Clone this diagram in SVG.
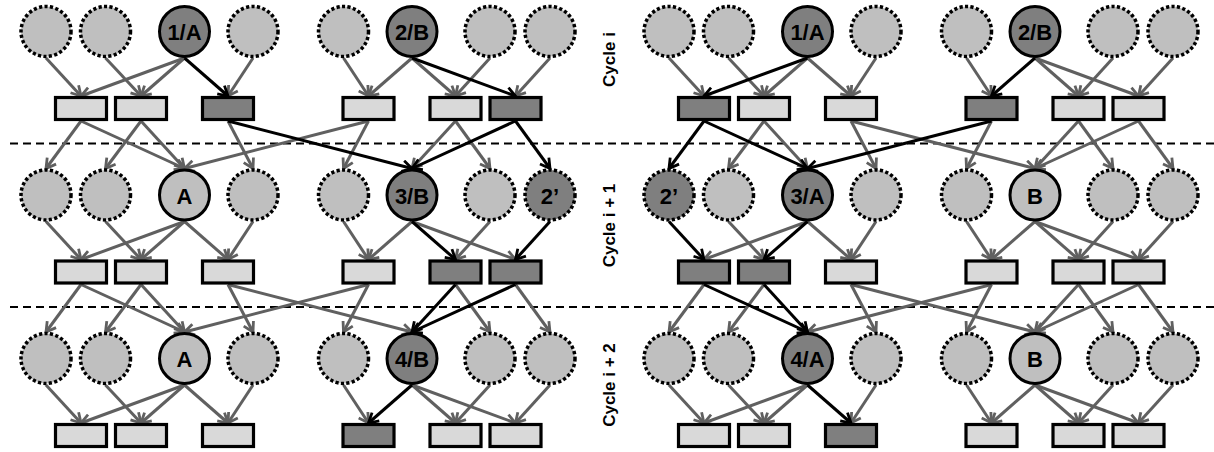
<svg xmlns="http://www.w3.org/2000/svg" width="1214" height="452" viewBox="0 0 1214 452">
<style>
.cd{fill:#bfbfbf;stroke:#000;stroke-width:3.5;stroke-dasharray:3.2 2.3}
.cdd{fill:#7f7f7f;stroke:#000;stroke-width:3.5;stroke-dasharray:3.2 2.3}
.cs{fill:#bfbfbf;stroke:#000;stroke-width:3}
.csd{fill:#7f7f7f;stroke:#000;stroke-width:3}
.rl{fill:#d9d9d9;stroke:#000;stroke-width:3.2}
.rd{fill:#7f7f7f;stroke:#000;stroke-width:3.2}
.lbl{font-family:"Liberation Sans",Arial,sans-serif;font-weight:bold;font-size:22px;fill:#000;text-anchor:middle}
.cyc{font-family:"Liberation Sans",Arial,sans-serif;font-weight:bold;font-size:17px;fill:#000;text-anchor:middle}
.g line{stroke:#606060;stroke-width:3;marker-end:url(#ag)}
.b line{stroke:#000;stroke-width:3;marker-end:url(#ab)}
.sep{stroke:#000;stroke-width:2;stroke-dasharray:8 5}
</style>
<defs>
<marker id="ag" viewBox="0 0 14 14" refX="12" refY="7" markerWidth="14" markerHeight="14" orient="auto" markerUnits="userSpaceOnUse"><path d="M2.5,1.5 L12,7 L2.5,12.5" fill="none" stroke="#606060" stroke-width="2.8"/></marker>
<marker id="ab" viewBox="0 0 14 14" refX="12" refY="7" markerWidth="14" markerHeight="14" orient="auto" markerUnits="userSpaceOnUse"><path d="M2.5,1.5 L12,7 L2.5,12.5" fill="none" stroke="#000" stroke-width="2.8"/></marker>
</defs>
<g id="separators">
<line class="sep" x1="10" y1="143.5" x2="1214" y2="143.5"/>
<line class="sep" x1="10" y1="307" x2="1214" y2="307"/>
</g>
<g id="connectors">
<g class="g">
<line x1="46" y1="58" x2="81" y2="96"/><line x1="105.5" y1="58" x2="141" y2="96"/><line x1="184.5" y1="58" x2="81" y2="96"/><line x1="184.5" y1="58" x2="141" y2="96"/><line x1="253" y1="58" x2="228" y2="96"/>
<line x1="343.5" y1="58" x2="368.5" y2="96"/><line x1="412" y1="58" x2="368.5" y2="96"/><line x1="412" y1="58" x2="455.5" y2="96"/><line x1="490" y1="58" x2="455.5" y2="96"/><line x1="550" y1="58" x2="515.5" y2="96"/>
<line x1="669" y1="58" x2="704" y2="96"/><line x1="728.5" y1="58" x2="764" y2="96"/><line x1="807.5" y1="58" x2="764" y2="96"/><line x1="807.5" y1="58" x2="851" y2="96"/><line x1="876" y1="58" x2="851" y2="96"/>
<line x1="966.5" y1="58" x2="991.5" y2="96"/><line x1="1035" y1="58" x2="1078.5" y2="96"/><line x1="1035" y1="58" x2="1138.5" y2="96"/><line x1="1113" y1="58" x2="1078.5" y2="96"/><line x1="1173" y1="58" x2="1138.5" y2="96"/>
<line x1="81" y1="121" x2="46" y2="168.5"/><line x1="81" y1="121" x2="184.5" y2="168.5"/><line x1="141" y1="121" x2="105.5" y2="168.5"/><line x1="141" y1="121" x2="184.5" y2="168.5"/><line x1="228" y1="121" x2="253" y2="168.5"/>
<line x1="368.5" y1="121" x2="343.5" y2="168.5"/><line x1="368.5" y1="121" x2="184.5" y2="168.5"/><line x1="455.5" y1="121" x2="412" y2="168.5"/><line x1="455.5" y1="121" x2="490" y2="168.5"/>
<line x1="764" y1="121" x2="728.5" y2="168.5"/><line x1="764" y1="121" x2="807.5" y2="168.5"/><line x1="851" y1="121" x2="876" y2="168.5"/><line x1="851" y1="121" x2="1035" y2="168.5"/>
<line x1="991.5" y1="121" x2="966.5" y2="168.5"/><line x1="1078.5" y1="121" x2="1035" y2="168.5"/><line x1="1078.5" y1="121" x2="1113" y2="168.5"/><line x1="1138.5" y1="121" x2="1035" y2="168.5"/><line x1="1138.5" y1="121" x2="1173" y2="168.5"/>
<line x1="46" y1="221.5" x2="81" y2="259.5"/><line x1="105.5" y1="221.5" x2="141" y2="259.5"/><line x1="184.5" y1="221.5" x2="81" y2="259.5"/><line x1="184.5" y1="221.5" x2="141" y2="259.5"/><line x1="184.5" y1="221.5" x2="228" y2="259.5"/><line x1="253" y1="221.5" x2="228" y2="259.5"/>
<line x1="343.5" y1="221.5" x2="368.5" y2="259.5"/><line x1="412" y1="221.5" x2="368.5" y2="259.5"/><line x1="412" y1="221.5" x2="515.5" y2="259.5"/><line x1="490" y1="221.5" x2="455.5" y2="259.5"/>
<line x1="728.5" y1="221.5" x2="764" y2="259.5"/><line x1="807.5" y1="221.5" x2="704" y2="259.5"/><line x1="807.5" y1="221.5" x2="851" y2="259.5"/><line x1="876" y1="221.5" x2="851" y2="259.5"/>
<line x1="966.5" y1="221.5" x2="991.5" y2="259.5"/><line x1="1035" y1="221.5" x2="991.5" y2="259.5"/><line x1="1035" y1="221.5" x2="1078.5" y2="259.5"/><line x1="1035" y1="221.5" x2="1138.5" y2="259.5"/><line x1="1113" y1="221.5" x2="1078.5" y2="259.5"/><line x1="1173" y1="221.5" x2="1138.5" y2="259.5"/>
<line x1="81" y1="284.5" x2="46" y2="332"/><line x1="81" y1="284.5" x2="184.5" y2="332"/><line x1="141" y1="284.5" x2="105.5" y2="332"/><line x1="141" y1="284.5" x2="184.5" y2="332"/><line x1="228" y1="284.5" x2="253" y2="332"/><line x1="228" y1="284.5" x2="412" y2="332"/>
<line x1="368.5" y1="284.5" x2="343.5" y2="332"/><line x1="368.5" y1="284.5" x2="184.5" y2="332"/><line x1="455.5" y1="284.5" x2="490" y2="332"/><line x1="515.5" y1="284.5" x2="550" y2="332"/>
<line x1="704" y1="284.5" x2="669" y2="332"/><line x1="764" y1="284.5" x2="728.5" y2="332"/><line x1="851" y1="284.5" x2="876" y2="332"/><line x1="851" y1="284.5" x2="1035" y2="332"/>
<line x1="991.5" y1="284.5" x2="966.5" y2="332"/><line x1="991.5" y1="284.5" x2="807.5" y2="332"/><line x1="1078.5" y1="284.5" x2="1035" y2="332"/><line x1="1078.5" y1="284.5" x2="1113" y2="332"/><line x1="1138.5" y1="284.5" x2="1035" y2="332"/><line x1="1138.5" y1="284.5" x2="1173" y2="332"/>
<line x1="46" y1="385" x2="81" y2="423"/><line x1="105.5" y1="385" x2="141" y2="423"/><line x1="184.5" y1="385" x2="81" y2="423"/><line x1="184.5" y1="385" x2="141" y2="423"/><line x1="184.5" y1="385" x2="228" y2="423"/><line x1="253" y1="385" x2="228" y2="423"/>
<line x1="343.5" y1="385" x2="368.5" y2="423"/><line x1="412" y1="385" x2="455.5" y2="423"/><line x1="412" y1="385" x2="515.5" y2="423"/><line x1="490" y1="385" x2="455.5" y2="423"/><line x1="550" y1="385" x2="515.5" y2="423"/>
<line x1="669" y1="385" x2="704" y2="423"/><line x1="728.5" y1="385" x2="764" y2="423"/><line x1="807.5" y1="385" x2="704" y2="423"/><line x1="807.5" y1="385" x2="764" y2="423"/><line x1="876" y1="385" x2="851" y2="423"/>
<line x1="966.5" y1="385" x2="991.5" y2="423"/><line x1="1035" y1="385" x2="991.5" y2="423"/><line x1="1035" y1="385" x2="1078.5" y2="423"/><line x1="1035" y1="385" x2="1138.5" y2="423"/><line x1="1113" y1="385" x2="1078.5" y2="423"/><line x1="1173" y1="385" x2="1138.5" y2="423"/>
</g>
<g class="b">
<line x1="184.5" y1="58" x2="228" y2="96"/><line x1="412" y1="58" x2="515.5" y2="96"/><line x1="807.5" y1="58" x2="704" y2="96"/><line x1="1035" y1="58" x2="991.5" y2="96"/>
<line x1="228" y1="121" x2="412" y2="168.5"/><line x1="515.5" y1="121" x2="412" y2="168.5"/><line x1="515.5" y1="121" x2="550" y2="168.5"/><line x1="704" y1="121" x2="669" y2="168.5"/><line x1="704" y1="121" x2="807.5" y2="168.5"/><line x1="991.5" y1="121" x2="807.5" y2="168.5"/>
<line x1="412" y1="221.5" x2="455.5" y2="259.5"/><line x1="550" y1="221.5" x2="515.5" y2="259.5"/><line x1="669" y1="221.5" x2="704" y2="259.5"/><line x1="807.5" y1="221.5" x2="764" y2="259.5"/>
<line x1="455.5" y1="284.5" x2="412" y2="332"/><line x1="515.5" y1="284.5" x2="412" y2="332"/><line x1="704" y1="284.5" x2="807.5" y2="332"/><line x1="764" y1="284.5" x2="807.5" y2="332"/>
<line x1="412" y1="385" x2="368.5" y2="423"/><line x1="807.5" y1="385" x2="851" y2="423"/>
</g>
</g>
<g id="labels">
<text class="cyc" transform="translate(614.5,59.5) rotate(-90)">Cycle i</text>
<text class="cyc" transform="translate(614.5,225.5) rotate(-90)">Cycle i + 1</text>
<text class="cyc" transform="translate(614.5,385) rotate(-90)">Cycle i + 2</text>
</g>
<g id="nodes">
<g id="r1g1c1"><circle class="cd" cx="46" cy="31.5" r="25"/></g>
<g id="r1g1c2"><circle class="cd" cx="105.5" cy="31.5" r="25"/></g>
<g id="r1g1c3"><circle class="csd" cx="184.5" cy="31.5" r="25"/><text class="lbl" x="184.5" y="40">1/A</text></g>
<g id="r1g1c4"><circle class="cd" cx="253" cy="31.5" r="25"/></g>
<g id="r1g2c1"><circle class="cd" cx="343.5" cy="31.5" r="25"/></g>
<g id="r1g2c2"><circle class="csd" cx="412" cy="31.5" r="25"/><text class="lbl" x="412" y="40">2/B</text></g>
<g id="r1g2c3"><circle class="cd" cx="490" cy="31.5" r="25"/></g>
<g id="r1g2c4"><circle class="cd" cx="550" cy="31.5" r="25"/></g>
<g id="r1g3c1"><circle class="cd" cx="669" cy="31.5" r="25"/></g>
<g id="r1g3c2"><circle class="cd" cx="728.5" cy="31.5" r="25"/></g>
<g id="r1g3c3"><circle class="csd" cx="807.5" cy="31.5" r="25"/><text class="lbl" x="807.5" y="40">1/A</text></g>
<g id="r1g3c4"><circle class="cd" cx="876" cy="31.5" r="25"/></g>
<g id="r1g4c1"><circle class="cd" cx="966.5" cy="31.5" r="25"/></g>
<g id="r1g4c2"><circle class="csd" cx="1035" cy="31.5" r="25"/><text class="lbl" x="1035" y="40">2/B</text></g>
<g id="r1g4c3"><circle class="cd" cx="1113" cy="31.5" r="25"/></g>
<g id="r1g4c4"><circle class="cd" cx="1173" cy="31.5" r="25"/></g>
<g id="r1g1b1"><rect class="rl" x="55.5" y="97.5" width="51" height="22"/></g>
<g id="r1g1b2"><rect class="rl" x="115.5" y="97.5" width="51" height="22"/></g>
<g id="r1g1b3"><rect class="rd" x="202.5" y="97.5" width="51" height="22"/></g>
<g id="r1g2b1"><rect class="rl" x="343" y="97.5" width="51" height="22"/></g>
<g id="r1g2b2"><rect class="rl" x="430" y="97.5" width="51" height="22"/></g>
<g id="r1g2b3"><rect class="rd" x="490" y="97.5" width="51" height="22"/></g>
<g id="r1g3b1"><rect class="rd" x="678.5" y="97.5" width="51" height="22"/></g>
<g id="r1g3b2"><rect class="rl" x="738.5" y="97.5" width="51" height="22"/></g>
<g id="r1g3b3"><rect class="rl" x="825.5" y="97.5" width="51" height="22"/></g>
<g id="r1g4b1"><rect class="rd" x="966" y="97.5" width="51" height="22"/></g>
<g id="r1g4b2"><rect class="rl" x="1053" y="97.5" width="51" height="22"/></g>
<g id="r1g4b3"><rect class="rl" x="1113" y="97.5" width="51" height="22"/></g>
<g id="r2g1c1"><circle class="cd" cx="46" cy="195" r="25"/></g>
<g id="r2g1c2"><circle class="cd" cx="105.5" cy="195" r="25"/></g>
<g id="r2g1c3"><circle class="cs" cx="184.5" cy="195" r="25"/><text class="lbl" x="184.5" y="203.5">A</text></g>
<g id="r2g1c4"><circle class="cd" cx="253" cy="195" r="25"/></g>
<g id="r2g2c1"><circle class="cd" cx="343.5" cy="195" r="25"/></g>
<g id="r2g2c2"><circle class="csd" cx="412" cy="195" r="25"/><text class="lbl" x="412" y="203.5">3/B</text></g>
<g id="r2g2c3"><circle class="cd" cx="490" cy="195" r="25"/></g>
<g id="r2g2c4"><circle class="cdd" cx="550" cy="195" r="25"/><text class="lbl" x="550" y="203.5">2’</text></g>
<g id="r2g3c1"><circle class="cdd" cx="669" cy="195" r="25"/><text class="lbl" x="669" y="203.5">2’</text></g>
<g id="r2g3c2"><circle class="cd" cx="728.5" cy="195" r="25"/></g>
<g id="r2g3c3"><circle class="csd" cx="807.5" cy="195" r="25"/><text class="lbl" x="807.5" y="203.5">3/A</text></g>
<g id="r2g3c4"><circle class="cd" cx="876" cy="195" r="25"/></g>
<g id="r2g4c1"><circle class="cd" cx="966.5" cy="195" r="25"/></g>
<g id="r2g4c2"><circle class="cs" cx="1035" cy="195" r="25"/><text class="lbl" x="1035" y="203.5">B</text></g>
<g id="r2g4c3"><circle class="cd" cx="1113" cy="195" r="25"/></g>
<g id="r2g4c4"><circle class="cd" cx="1173" cy="195" r="25"/></g>
<g id="r2g1b1"><rect class="rl" x="55.5" y="261" width="51" height="22"/></g>
<g id="r2g1b2"><rect class="rl" x="115.5" y="261" width="51" height="22"/></g>
<g id="r2g1b3"><rect class="rl" x="202.5" y="261" width="51" height="22"/></g>
<g id="r2g2b1"><rect class="rl" x="343" y="261" width="51" height="22"/></g>
<g id="r2g2b2"><rect class="rd" x="430" y="261" width="51" height="22"/></g>
<g id="r2g2b3"><rect class="rd" x="490" y="261" width="51" height="22"/></g>
<g id="r2g3b1"><rect class="rd" x="678.5" y="261" width="51" height="22"/></g>
<g id="r2g3b2"><rect class="rd" x="738.5" y="261" width="51" height="22"/></g>
<g id="r2g3b3"><rect class="rl" x="825.5" y="261" width="51" height="22"/></g>
<g id="r2g4b1"><rect class="rl" x="966" y="261" width="51" height="22"/></g>
<g id="r2g4b2"><rect class="rl" x="1053" y="261" width="51" height="22"/></g>
<g id="r2g4b3"><rect class="rl" x="1113" y="261" width="51" height="22"/></g>
<g id="r3g1c1"><circle class="cd" cx="46" cy="358.5" r="25"/></g>
<g id="r3g1c2"><circle class="cd" cx="105.5" cy="358.5" r="25"/></g>
<g id="r3g1c3"><circle class="cs" cx="184.5" cy="358.5" r="25"/><text class="lbl" x="184.5" y="367">A</text></g>
<g id="r3g1c4"><circle class="cd" cx="253" cy="358.5" r="25"/></g>
<g id="r3g2c1"><circle class="cd" cx="343.5" cy="358.5" r="25"/></g>
<g id="r3g2c2"><circle class="csd" cx="412" cy="358.5" r="25"/><text class="lbl" x="412" y="367">4/B</text></g>
<g id="r3g2c3"><circle class="cd" cx="490" cy="358.5" r="25"/></g>
<g id="r3g2c4"><circle class="cd" cx="550" cy="358.5" r="25"/></g>
<g id="r3g3c1"><circle class="cd" cx="669" cy="358.5" r="25"/></g>
<g id="r3g3c2"><circle class="cd" cx="728.5" cy="358.5" r="25"/></g>
<g id="r3g3c3"><circle class="csd" cx="807.5" cy="358.5" r="25"/><text class="lbl" x="807.5" y="367">4/A</text></g>
<g id="r3g3c4"><circle class="cd" cx="876" cy="358.5" r="25"/></g>
<g id="r3g4c1"><circle class="cd" cx="966.5" cy="358.5" r="25"/></g>
<g id="r3g4c2"><circle class="cs" cx="1035" cy="358.5" r="25"/><text class="lbl" x="1035" y="367">B</text></g>
<g id="r3g4c3"><circle class="cd" cx="1113" cy="358.5" r="25"/></g>
<g id="r3g4c4"><circle class="cd" cx="1173" cy="358.5" r="25"/></g>
<g id="r3g1b1"><rect class="rl" x="55.5" y="424.5" width="51" height="22"/></g>
<g id="r3g1b2"><rect class="rl" x="115.5" y="424.5" width="51" height="22"/></g>
<g id="r3g1b3"><rect class="rl" x="202.5" y="424.5" width="51" height="22"/></g>
<g id="r3g2b1"><rect class="rd" x="343" y="424.5" width="51" height="22"/></g>
<g id="r3g2b2"><rect class="rl" x="430" y="424.5" width="51" height="22"/></g>
<g id="r3g2b3"><rect class="rl" x="490" y="424.5" width="51" height="22"/></g>
<g id="r3g3b1"><rect class="rl" x="678.5" y="424.5" width="51" height="22"/></g>
<g id="r3g3b2"><rect class="rl" x="738.5" y="424.5" width="51" height="22"/></g>
<g id="r3g3b3"><rect class="rd" x="825.5" y="424.5" width="51" height="22"/></g>
<g id="r3g4b1"><rect class="rl" x="966" y="424.5" width="51" height="22"/></g>
<g id="r3g4b2"><rect class="rl" x="1053" y="424.5" width="51" height="22"/></g>
<g id="r3g4b3"><rect class="rl" x="1113" y="424.5" width="51" height="22"/></g>
</g>
</svg>
